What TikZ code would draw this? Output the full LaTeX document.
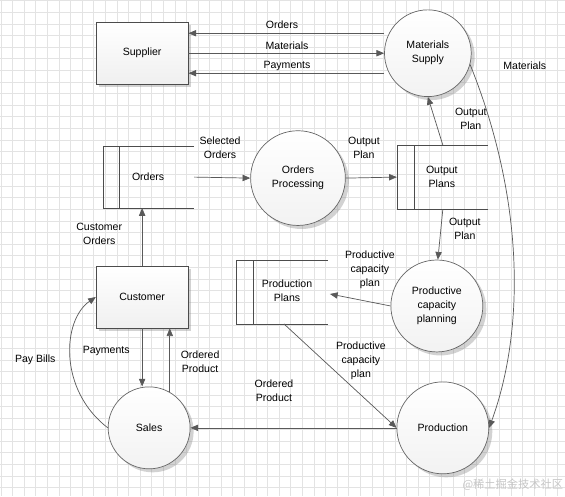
\documentclass[tikz,border=0pt]{standalone}
\usepackage{fontspec}
\setmainfont{Liberation Sans}
\newfontfamily\cjk{Noto Sans CJK SC}
\usetikzlibrary{arrows.meta,positioning,shadows,calc}

\begin{document}
\begin{tikzpicture}[x=0.025cm,y=-0.025cm,
  font=\fontsize{7.5}{10}\selectfont,
  gridline/.style={draw=gray!22,line width=0.4pt},
  flow/.style={draw=black!65,line width=0.5pt,-{Triangle[length=5.5pt,width=4.5pt]}},
  lbl/.style={align=center,inner sep=1pt},
  entity/.style={rectangle,draw=black!70,line width=0.5pt,minimum width=2.3cm,
    minimum height=1.55cm,top color=white,bottom color=gray!12,
    drop shadow={shadow xshift=2pt,shadow yshift=-2pt,opacity=0.35}},
  process/.style={circle,draw=black!60,line width=0.5pt,minimum size=#1,
    align=center,inner sep=0pt,top color=white,bottom color=gray!10,
    drop shadow={shadow xshift=2.5pt,shadow yshift=-2.5pt,opacity=0.35}},
  process/.default=2.1cm
]
% grid background
\fill[white] (0,0) rectangle (565,496);
\foreach \k in {0,...,48} {
  \draw[gridline] ({0.7+11.6*\k},0) -- ({0.7+11.6*\k},496);
}
\foreach \k in {0,...,42} {
  \draw[gridline] (0,{0.5+11.6*\k}) -- (565,{0.5+11.6*\k});
}
\useasboundingbox (0,0) rectangle (565,496);

% external entities
\node[entity] (supplier) at (142,53)  {Supplier};
\node[entity] (customer) at (142,297) {Customer};

% processes
\node[process=2.17cm] (matsup) at (428,53)  {Materials\\Supply};
\node[process=2.37cm] (ordproc) at (298,178) {Orders\\Processing};
\node[process=2.3cm]  (capplan) at (437,306) {Productive\\capacity\\planning};
\node[process=2.3cm]  (production) at (443,428) {Production};
\node[process=2.05cm] (sales) at (149,428) {Sales};

% data stores
\draw[black!70,line width=0.5pt] (194,146) -- (103,146) -- (103,208) -- (194,208)
  (119,146) -- (119,208);
\node (orders) at (148,177) {Orders};
\coordinate (ordersE) at (194,177);
\coordinate (ordersS) at (142,208);
\draw[black!70,line width=0.5pt] (488,145) -- (397,145) -- (397,209) -- (488,209)
  (414,145) -- (414,209);
\node[align=center] (outplans) at (442,177) {Output\\Plans};
\coordinate (outplansW) at (397,177);
\coordinate (outplansN) at (443,145);
\coordinate (outplansS) at (443,209);
\draw[black!70,line width=0.5pt] (328,260) -- (236,260) -- (236,324) -- (328,324)
  (253,260) -- (253,324);
\node[align=center] (prodplans) at (287,291) {Production\\Plans};
\coordinate (prodplansE) at (330,294);
\coordinate (prodplansS) at (284,324);

% supplier flows
\draw[flow] (matsup.west |- 0,33) -- (supplier.east |- 0,33);
\draw[flow] (supplier.east) -- (matsup.west);
\draw[flow] (matsup.west |- 0,73) -- (supplier.east |- 0,73);
\node[lbl] at (282,24) {Orders};
\node[lbl] at (287,46) {Materials};
\node[lbl] at (287,66) {Payments};

% orders and plans
\draw[flow] (ordersE) -- (ordproc.west);
\node[lbl] at (220,148) {Selected\\Orders};
\draw[flow] (ordproc.east) -- (outplansW);
\node[lbl] at (364,148) {Output\\Plan};
\draw[flow] (outplansN) -- (matsup.south);
\node[lbl] at (471,119) {Output\\Plan};
\draw[flow] (outplansS) -- ($(capplan.north)+(1,0)$);
\node[lbl] at (465,229) {Output\\Plan};
\draw[flow] (capplan.west) -- (prodplansE);
\node[lbl] at (370,270) {Productive\\capacity\\plan};
\draw[flow] (prodplansS) -- (production.west);
\node[lbl] at (361,361) {Productive\\capacity\\plan};
\draw[flow] (matsup.-15) .. controls (525,200) and (525,330) .. (production.east);
\node[lbl] at (525,66) {Materials};

% customer and sales
\draw[flow] (customer.north) -- (ordersS);
\node[lbl] at (99,234) {Customer\\Orders};
\draw[flow] (production.west) -- (sales.east);
\node[lbl] at (274,391) {Ordered\\Product};
\draw[flow] (customer.south) -- (sales.north -| customer.south);
\node[lbl] at (106,351) {Payments};
\draw[flow] (sales.60) -- (customer.south -| sales.60);
\node[lbl] at (200,362) {Ordered\\Product};
\draw[flow] (sales.west) .. controls (58,390) and (62,320) .. (customer.west);
\node[lbl] at (35,360) {Pay Bills};

% watermark
\node[text=gray!45,font=\cjk\fontsize{8}{9}\selectfont] (mark) at (513,485) {@稀土掘金技术社区};
\end{tikzpicture}
\end{document}
